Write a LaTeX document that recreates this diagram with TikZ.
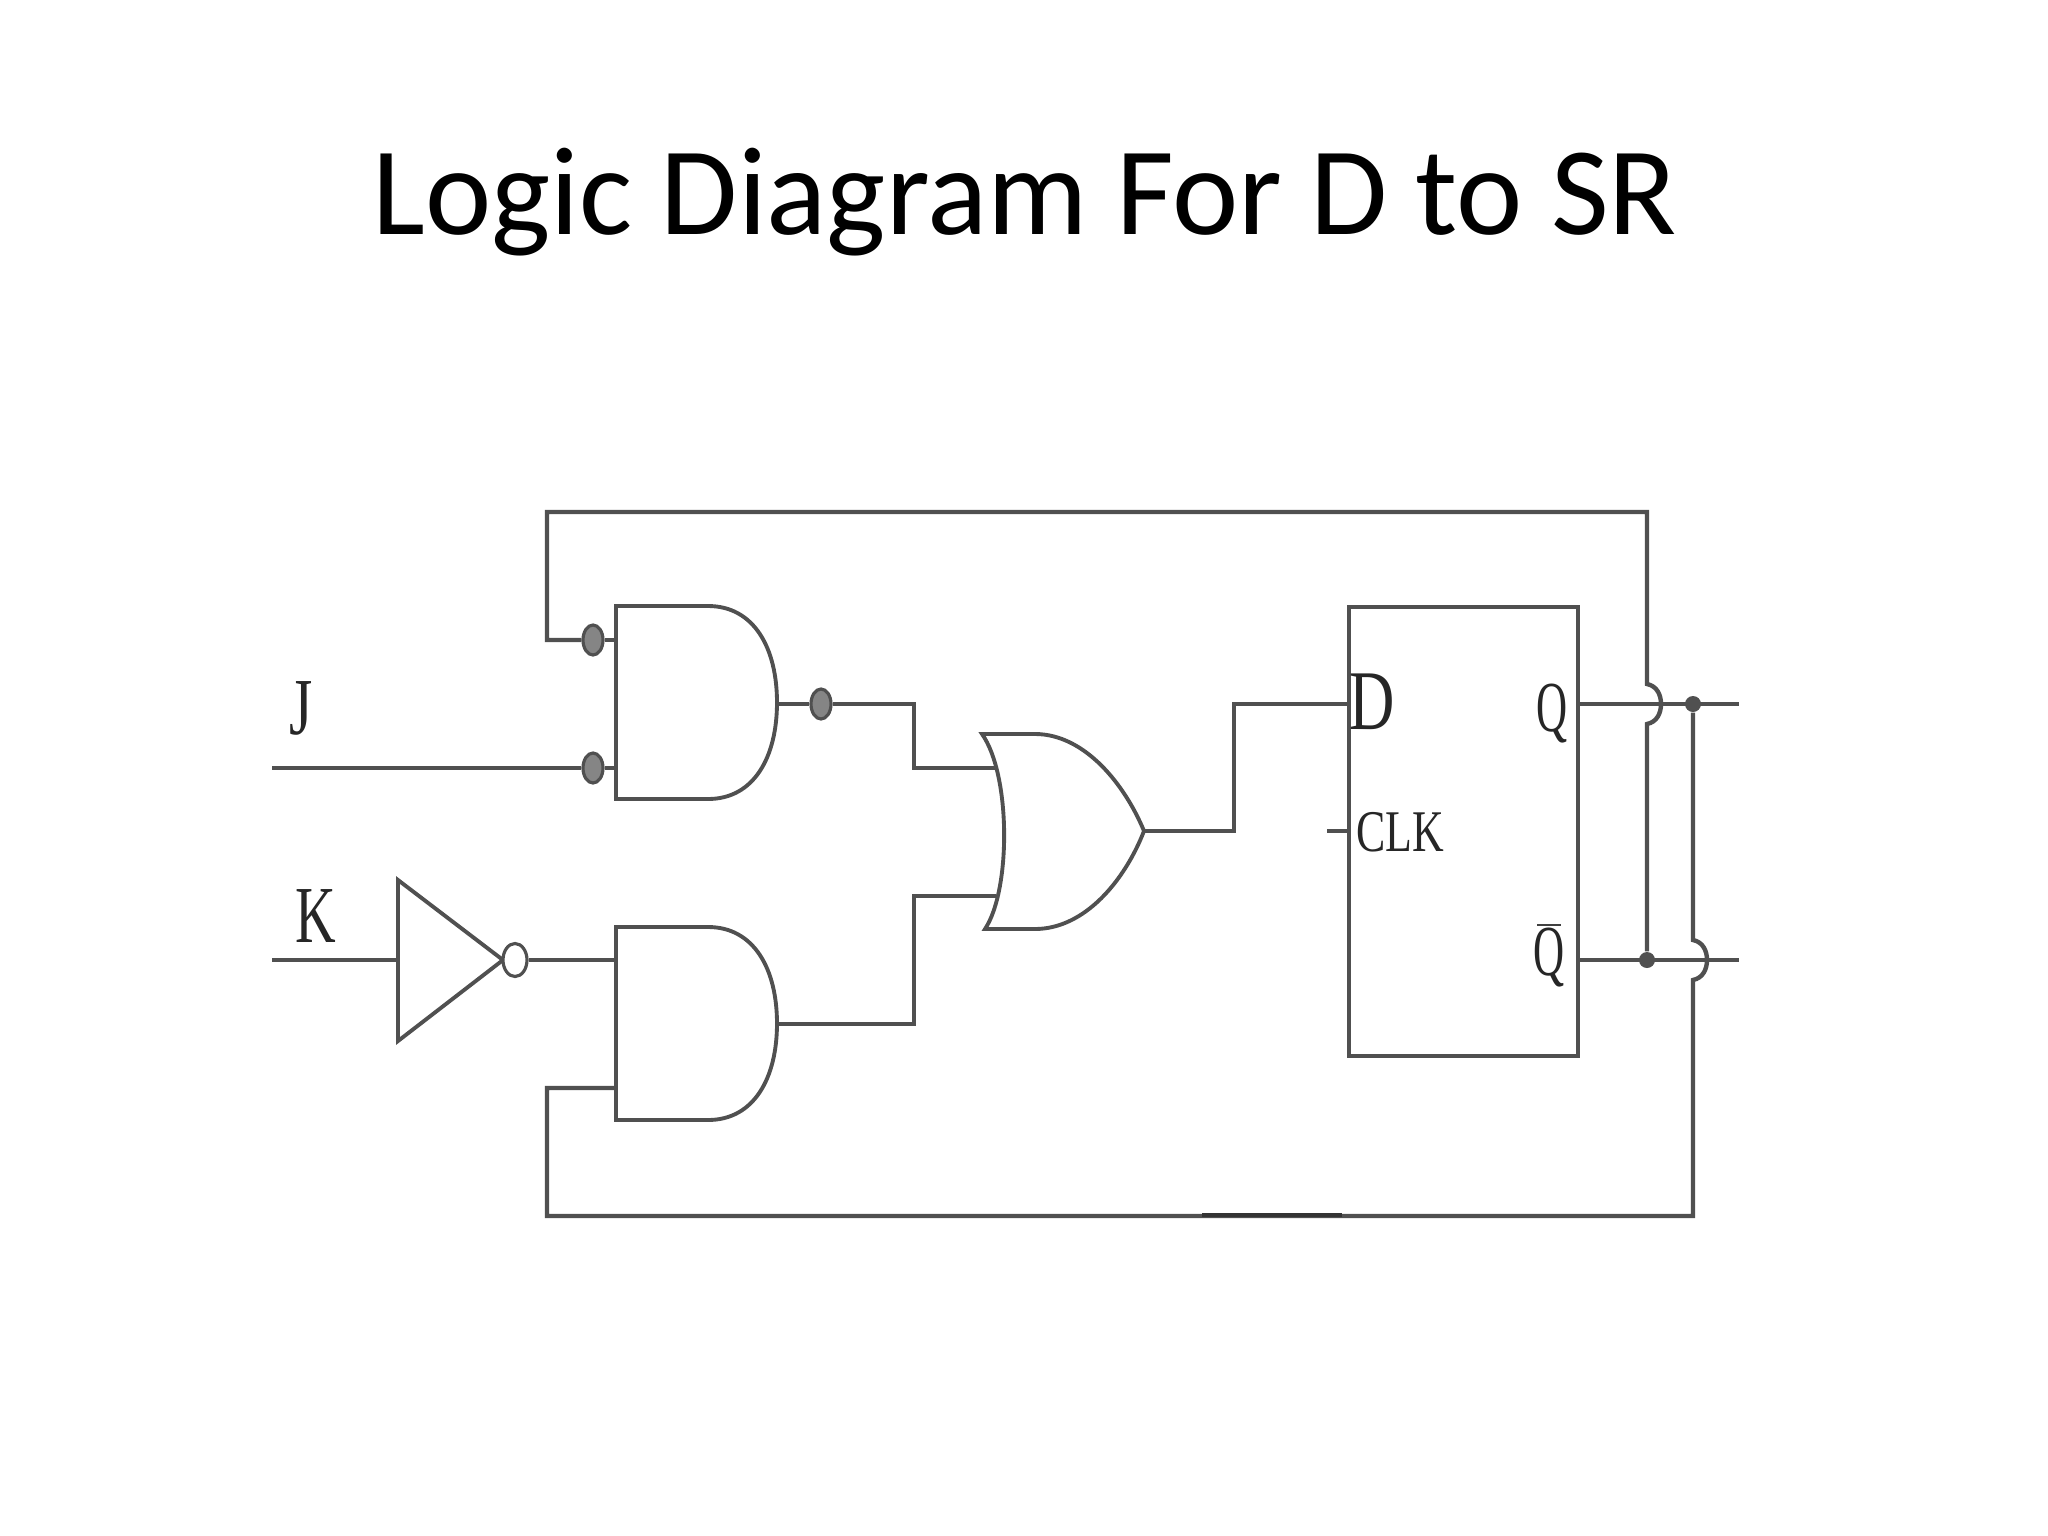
\documentclass[tikz,border=0pt]{standalone}
\usepackage{fontspec}
\setmainfont{Liberation Serif}
\newfontfamily\titlefont{Carlito}
\usetikzlibrary{shapes.geometric}

\definecolor{wirecol}{HTML}{505050}
\definecolor{bubblecol}{HTML}{858585}

\tikzset{
    wire/.style={draw=wirecol, line width=1.25pt, line join=miter},
    gate/.style={draw=wirecol, line width=1.1pt, line join=miter},
    notdot/.style={ellipse, draw=wirecol, line width=0.9pt, fill=bubblecol, inner sep=0pt, minimum width=0.2cm, minimum height=0.3cm},
    openbubble/.style={notdot, fill=white, minimum width=0.24cm, minimum height=0.33cm},
    joint/.style={circle, fill=wirecol, inner sep=0pt, minimum size=0.16cm},
    pinlabel/.style={text=black!85, inner sep=0pt, font=\fontsize{#1}{#1}\selectfont},
    andgate/.pic={
        \draw[gate] (0,0) -- (92,0) .. controls (138,0) and (161,42) .. (161,96.5)
            .. controls (161,151) and (138,193) .. (92,193) -- (0,193) -- cycle;
    }
}

\begin{document}
\begin{tikzpicture}[x=0.01cm, y=-0.01cm]
    \useasboundingbox (0,0) rectangle (2048,1536);

    % title
    \node[inner sep=0pt, font=\titlefont\fontsize{35.7}{36}\selectfont] (title) at (1025,202) {Logic Diagram For D to SR};

    % gates
    \pic at (616,606) {andgate};
    \pic at (616,927) {andgate};
    \draw[gate] (982,734) -- (1035,734) .. controls (1085,734) and (1125,785) .. (1144,831)
        .. controls (1125,880) and (1085,929) .. (1035,929) -- (985,929)
        .. controls (1011,890) and (1011,775) .. cycle;
    \draw[gate] (398,880) -- (503,960) -- (398,1041) -- cycle;

    % flip flop
    \node[draw=wirecol, line width=1pt, minimum width=2.29cm, minimum height=4.49cm, inner sep=0pt] (ff) at (1463.5,831.5) {};

    % pins
    \coordinate (andAa) at (616,640);
    \coordinate (andAb) at (616,768);
    \coordinate (andAo) at (777,704);
    \coordinate (andBa) at (616,960);
    \coordinate (andBb) at (616,1088);
    \coordinate (andBo) at (777,1024);
    \coordinate (orA) at (996,768);
    \coordinate (orB) at (996,896);
    \coordinate (orO) at (1144,831);
    \coordinate (notI) at (398,960);
    \coordinate (inJ) at (272,768);
    \coordinate (inK) at (272,960);
    \coordinate (outQ) at (1739,704);
    \coordinate (outN) at (1739,960);
    \coordinate (pinD) at (1349,704);
    \coordinate (pinC) at (1349,831);
    \coordinate (tickC) at (1327,831);
    \coordinate (pinQ) at (1578,704);
    \coordinate (pinN) at (1578,960);

    % inversion bubbles
    \node[notdot] (dotA) at (593,640) {};
    \node[notdot] (dotB) at (593,768) {};
    \node[notdot] (dotO) at (821,704) {};
    \node[openbubble] (dotK) at (515,960) {};

    % junctions
    \node[joint] (jQ) at (1693,704) {};
    \node[joint] (jN) at (1647,960) {};

    % wires
    \draw[wire] (inJ) -- (dotB);
    \draw[wire] (dotB) -- (andAb);
    \draw[wire] (dotA) -- (andAa);
    \draw[wire] (inK) -- (notI);
    \draw[wire] (dotK) -- (andBa);
    \draw[wire] (andAo) -- (dotO);
    \draw[wire] (dotO) -- (914,704) -- (914,768) -- (orA);
    \draw[wire] (andBo) -- (914,1024) -- (914,896) -- (orB);
    \draw[wire] (orO) -- (1234,831) -- (1234,704) -- (pinD);
    \draw[wire] (tickC) -- (pinC);
    \draw[wire] (pinQ) -- (outQ);
    \draw[wire] (pinN) -- (outN);

    % feedback with hops
    \draw[wire] (dotA) -- (547,640) -- (547,512) -- (1647,512) -- (1647,684)
        .. controls (1657,686) and (1661,695) .. (1661,704)
        .. controls (1661,713) and (1657,722) .. (1647,724) -- (jN);
    \draw[wire] (andBb) -- (547,1088) -- (547,1216) -- (1693,1216) -- (1693,980)
        .. controls (1703,978) and (1707,969) .. (1707,960)
        .. controls (1707,951) and (1703,942) .. (1693,940) -- (jQ);
    \draw[line width=1.4pt, draw=black!80] (1202,1215) -- (1342,1215);

    % labels
    \node[pinlabel=20, xscale=0.85, yscale=1.15] (lblJ) at (301,708) {J};
    \node[pinlabel=20, xscale=0.8, yscale=1.15] (lblK) at (316,916) {K};
    \node[pinlabel=21, xscale=0.85, yscale=1.15] (lblD) at (1372,702) {D};
    \node[pinlabel=16, xscale=0.78, yscale=1.05] (lblC) at (1400,832) {CLK};
    \node[pinlabel=17, xscale=0.72, yscale=1.2] (lblQ) at (1552,714) {Q};
    \node[pinlabel=17, xscale=0.72, yscale=1.2] (lblN) at (1549,958) {Q};
    \draw[line width=0.8pt, draw=black!75] (1537,925) -- (1561,925);
\end{tikzpicture}
\end{document}
